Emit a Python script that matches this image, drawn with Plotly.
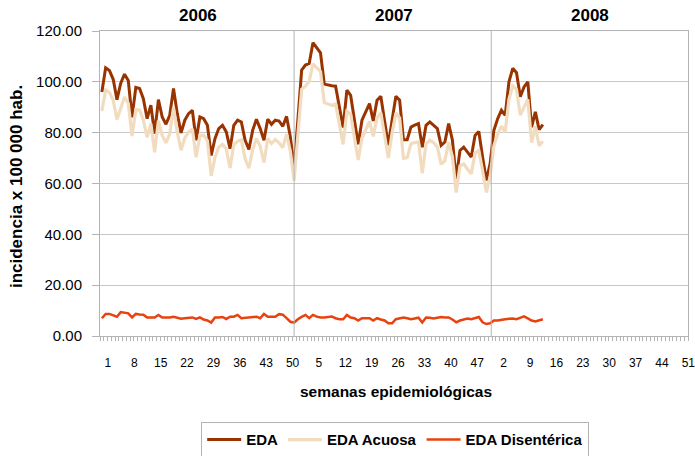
import plotly.graph_objects as go

years = ["2006", "2007", "2008"]
weeks_per_year = 52
series_names = ["EDA", "EDA Acuosa", "EDA Disentérica"]

eda_2006 = [96.0, 105.5, 104.5, 101.0, 93.0, 99.5, 103.0, 100.5, 86.0, 97.8, 97.4, 93.4, 85.5, 90.8, 79.6, 93.0,
            86.2, 83.3, 86.8, 97.4, 87.5, 79.9, 84.9, 87.5, 88.8, 77.0, 86.2, 85.5, 82.9, 71.0, 77.6, 81.6,
            82.9, 80.3, 73.7, 82.9, 84.9, 84.2, 77.0, 73.4, 80.9, 85.3, 81.6, 77.0, 85.3, 83.3, 84.9, 84.6,
            82.5, 86.4, 78.3, 66.4]
eda_2007 = [85.0, 104.6, 106.6, 107.2, 115.4, 113.2, 111.4, 99.1, 98.7, 98.5, 98.3, 90.0, 82.0, 96.7, 94.7, 85.0,
            75.4, 84.9, 88.0, 91.4, 84.6, 92.8, 94.3, 84.0, 75.0, 85.0, 94.3, 92.8, 77.2, 77.2, 82.2, 83.0,
            83.6, 74.3, 82.9, 84.2, 83.0, 81.6, 75.0, 76.3, 83.6, 77.0, 61.8, 73.0, 74.3, 72.5, 70.4, 78.9,
            80.5, 70.4, 61.2, 67.8]
eda_2008 = [80.9, 85.5, 88.8, 86.8, 100.0, 105.3, 103.6, 94.1, 98.0, 100.0, 82.2, 88.2, 81.2, 83.2]

acuosa_2006 = [88.5, 96.8, 95.8, 92.8, 85.2, 90.1, 94.0, 91.6, 78.7, 89.1, 88.9, 85.0, 78.2, 83.5, 72.3, 84.7,
               78.9, 76.0, 79.5, 89.8, 80.2, 73.1, 77.9, 80.2, 81.5, 70.3, 78.9, 79.0, 76.8, 63.0, 70.3, 74.3,
               75.4, 73.6, 66.1, 75.3, 76.6, 77.2, 69.8, 66.0, 73.3, 77.7, 74.6, 68.3, 77.7, 75.7, 77.3, 76.0,
               74.1, 79.4, 72.7, 61.1]
acuosa_2007 = [78.4, 97.1, 98.3, 100.2, 107.1, 105.6, 104.1, 91.8, 91.2, 90.8, 91.3, 83.4, 75.4, 88.4, 87.4, 78.0,
               69.3, 77.9, 81.0, 84.4, 78.5, 85.8, 87.8, 77.9, 70.0, 80.0, 87.7, 85.8, 69.9, 70.2, 75.6, 76.1,
               76.4, 64.0, 75.6, 77.0, 76.1, 74.4, 67.5, 69.0, 76.3, 70.5, 56.4, 66.9, 67.7, 65.6, 63.8, 71.9,
               73.0, 65.0, 56.5, 62.8]
acuosa_2008 = [74.8, 79.4, 82.6, 80.2, 93.2, 98.4, 97.0, 86.9, 90.3, 93.1, 76.1, 82.5, 74.9, 76.6]

dis_2006 = [7.0, 8.7, 8.7, 8.2, 7.6, 9.4, 9.0, 8.9, 7.3, 8.7, 8.5, 8.4, 7.3, 7.3, 7.3, 8.3,
            7.3, 7.3, 7.3, 7.6, 7.3, 6.8, 7.0, 7.3, 7.3, 6.7, 7.3, 6.5, 6.1, 5.3, 7.3, 7.3,
            7.5, 6.7, 7.6, 7.6, 8.3, 7.0, 7.2, 7.4, 7.6, 7.6, 7.0, 8.7, 7.6, 7.6, 7.6, 8.6,
            8.4, 7.0, 5.6, 5.3]
dis_2007 = [6.6, 7.5, 8.3, 7.0, 8.3, 7.6, 7.3, 7.3, 7.5, 7.7, 7.0, 6.6, 6.6, 8.3, 7.3, 7.0,
            6.1, 7.0, 7.0, 7.0, 6.1, 7.0, 6.5, 6.1, 5.0, 5.0, 6.6, 7.0, 7.3, 7.0, 6.6, 6.9,
            7.2, 5.3, 7.3, 7.2, 6.9, 7.2, 7.5, 7.3, 7.3, 6.5, 5.4, 6.1, 6.6, 6.9, 6.6, 7.0,
            7.5, 5.4, 4.7, 5.0]
dis_2008 = [6.1, 6.1, 6.2, 6.6, 6.8, 6.9, 6.6, 7.2, 7.7, 6.9, 6.1, 5.7, 6.3, 6.6]

eda = eda_2006 + eda_2007 + eda_2008
acuosa = acuosa_2006 + acuosa_2007 + acuosa_2008
dis = dis_2006 + dis_2007 + dis_2008

# week number for every category slot (3 years x 52 weeks)
all_weeks = [w for _ in years for w in range(1, weeks_per_year + 1)]
n_cat = len(all_weeks)
label_step = 7
tickvals = [i for i in range(n_cat) if i % label_step == 0]
ticktext = [str(all_weeks[i]) for i in tickvals]

colors = ["#993300", "#F2DCC0", "#E8420E"]
widths = [3, 3.2, 2.5]
FONT = "Liberation Sans, Arial, sans-serif"

fig = go.Figure()
for name, vals, c, w in zip(series_names, [eda, acuosa, dis], colors, widths):
    fig.add_trace(go.Scatter(x=list(range(len(vals))), y=vals, mode="lines", name=name,
                             line=dict(color=c, width=w)))

# year separators
for xs in [51.0, 103.3]:
    fig.add_shape(type="line", xref="x", yref="y domain", x0=xs, x1=xs, y0=0, y1=1,
                  line=dict(color="#b4b4b4", width=1))

# year labels
for k, yr in enumerate(years):
    fig.add_annotation(text="<b>%s</b>" % yr, xref="x", yref="paper",
                       x=k * weeks_per_year + (weeks_per_year - 1) / 2, y=1.052,
                       showarrow=False, font=dict(family=FONT, size=17, color="#000"),
                       xanchor="center", yanchor="middle")

# axis titles
fig.add_annotation(text="<b>incidencia x 100 000 hab.</b>", xref="paper", yref="paper",
                   x=-0.142, y=0.49, textangle=-90, showarrow=False,
                   font=dict(family=FONT, size=17, color="#000"), xanchor="center", yanchor="middle")
fig.add_annotation(text="<b>semanas epidemiológicas</b>", xref="paper", yref="paper",
                   x=0.503, y=-0.183, showarrow=False,
                   font=dict(family=FONT, size=15.5, color="#000"), xanchor="center", yanchor="middle")

fig.update_layout(
    width=695, height=456,
    margin=dict(l=100, r=7, t=31, b=120, autoexpand=False),
    paper_bgcolor="white", plot_bgcolor="white",
    font=dict(family=FONT, color="#000"),
    showlegend=True,
    legend=dict(orientation="h", x=0.502, xanchor="center", y=-0.283, yanchor="top",
                bordercolor="#b4b4b4", borderwidth=1, bgcolor="white",
                font=dict(family=FONT, size=15, color="#000", weight="bold"), itemwidth=34,
                traceorder="normal"),
)
fig.update_xaxes(range=[-0.5, n_cat - 0.5], tickmode="array", tickvals=tickvals, ticktext=ticktext,
                 automargin=False,
                 showgrid=False, zeroline=False, showline=True, linecolor="#b4b4b4", linewidth=1,
                 mirror=True, ticks="outside", ticklen=4, tickcolor="rgba(0,0,0,0)",
                 ticklabelshift=6, ticklabelstandoff=12, ticklabeloverflow="allow",
                 tickfont=dict(family=FONT, size=12, color="#000"),
                 minor=dict(tickmode="linear", tick0=-0.5, dtick=1, ticks="outside", ticklen=4,
                            tickcolor="#b4b4b4", showgrid=False))
fig.update_yaxes(range=[0, 120], dtick=20, tickformat=".2f", showgrid=True, gridcolor="#c8c8c8",
                 automargin=False,
                 gridwidth=1, zeroline=False, showline=True, linecolor="#b4b4b4", linewidth=1,
                 mirror=True, ticks="outside", ticklen=7, tickcolor="#b4b4b4",
                 ticklabelstandoff=7, tickfont=dict(family=FONT, size=15, color="#000"))

fig.write_html("out.html", config={"displayModeBar": False},
               post_script="document.body.style.margin='0';")
